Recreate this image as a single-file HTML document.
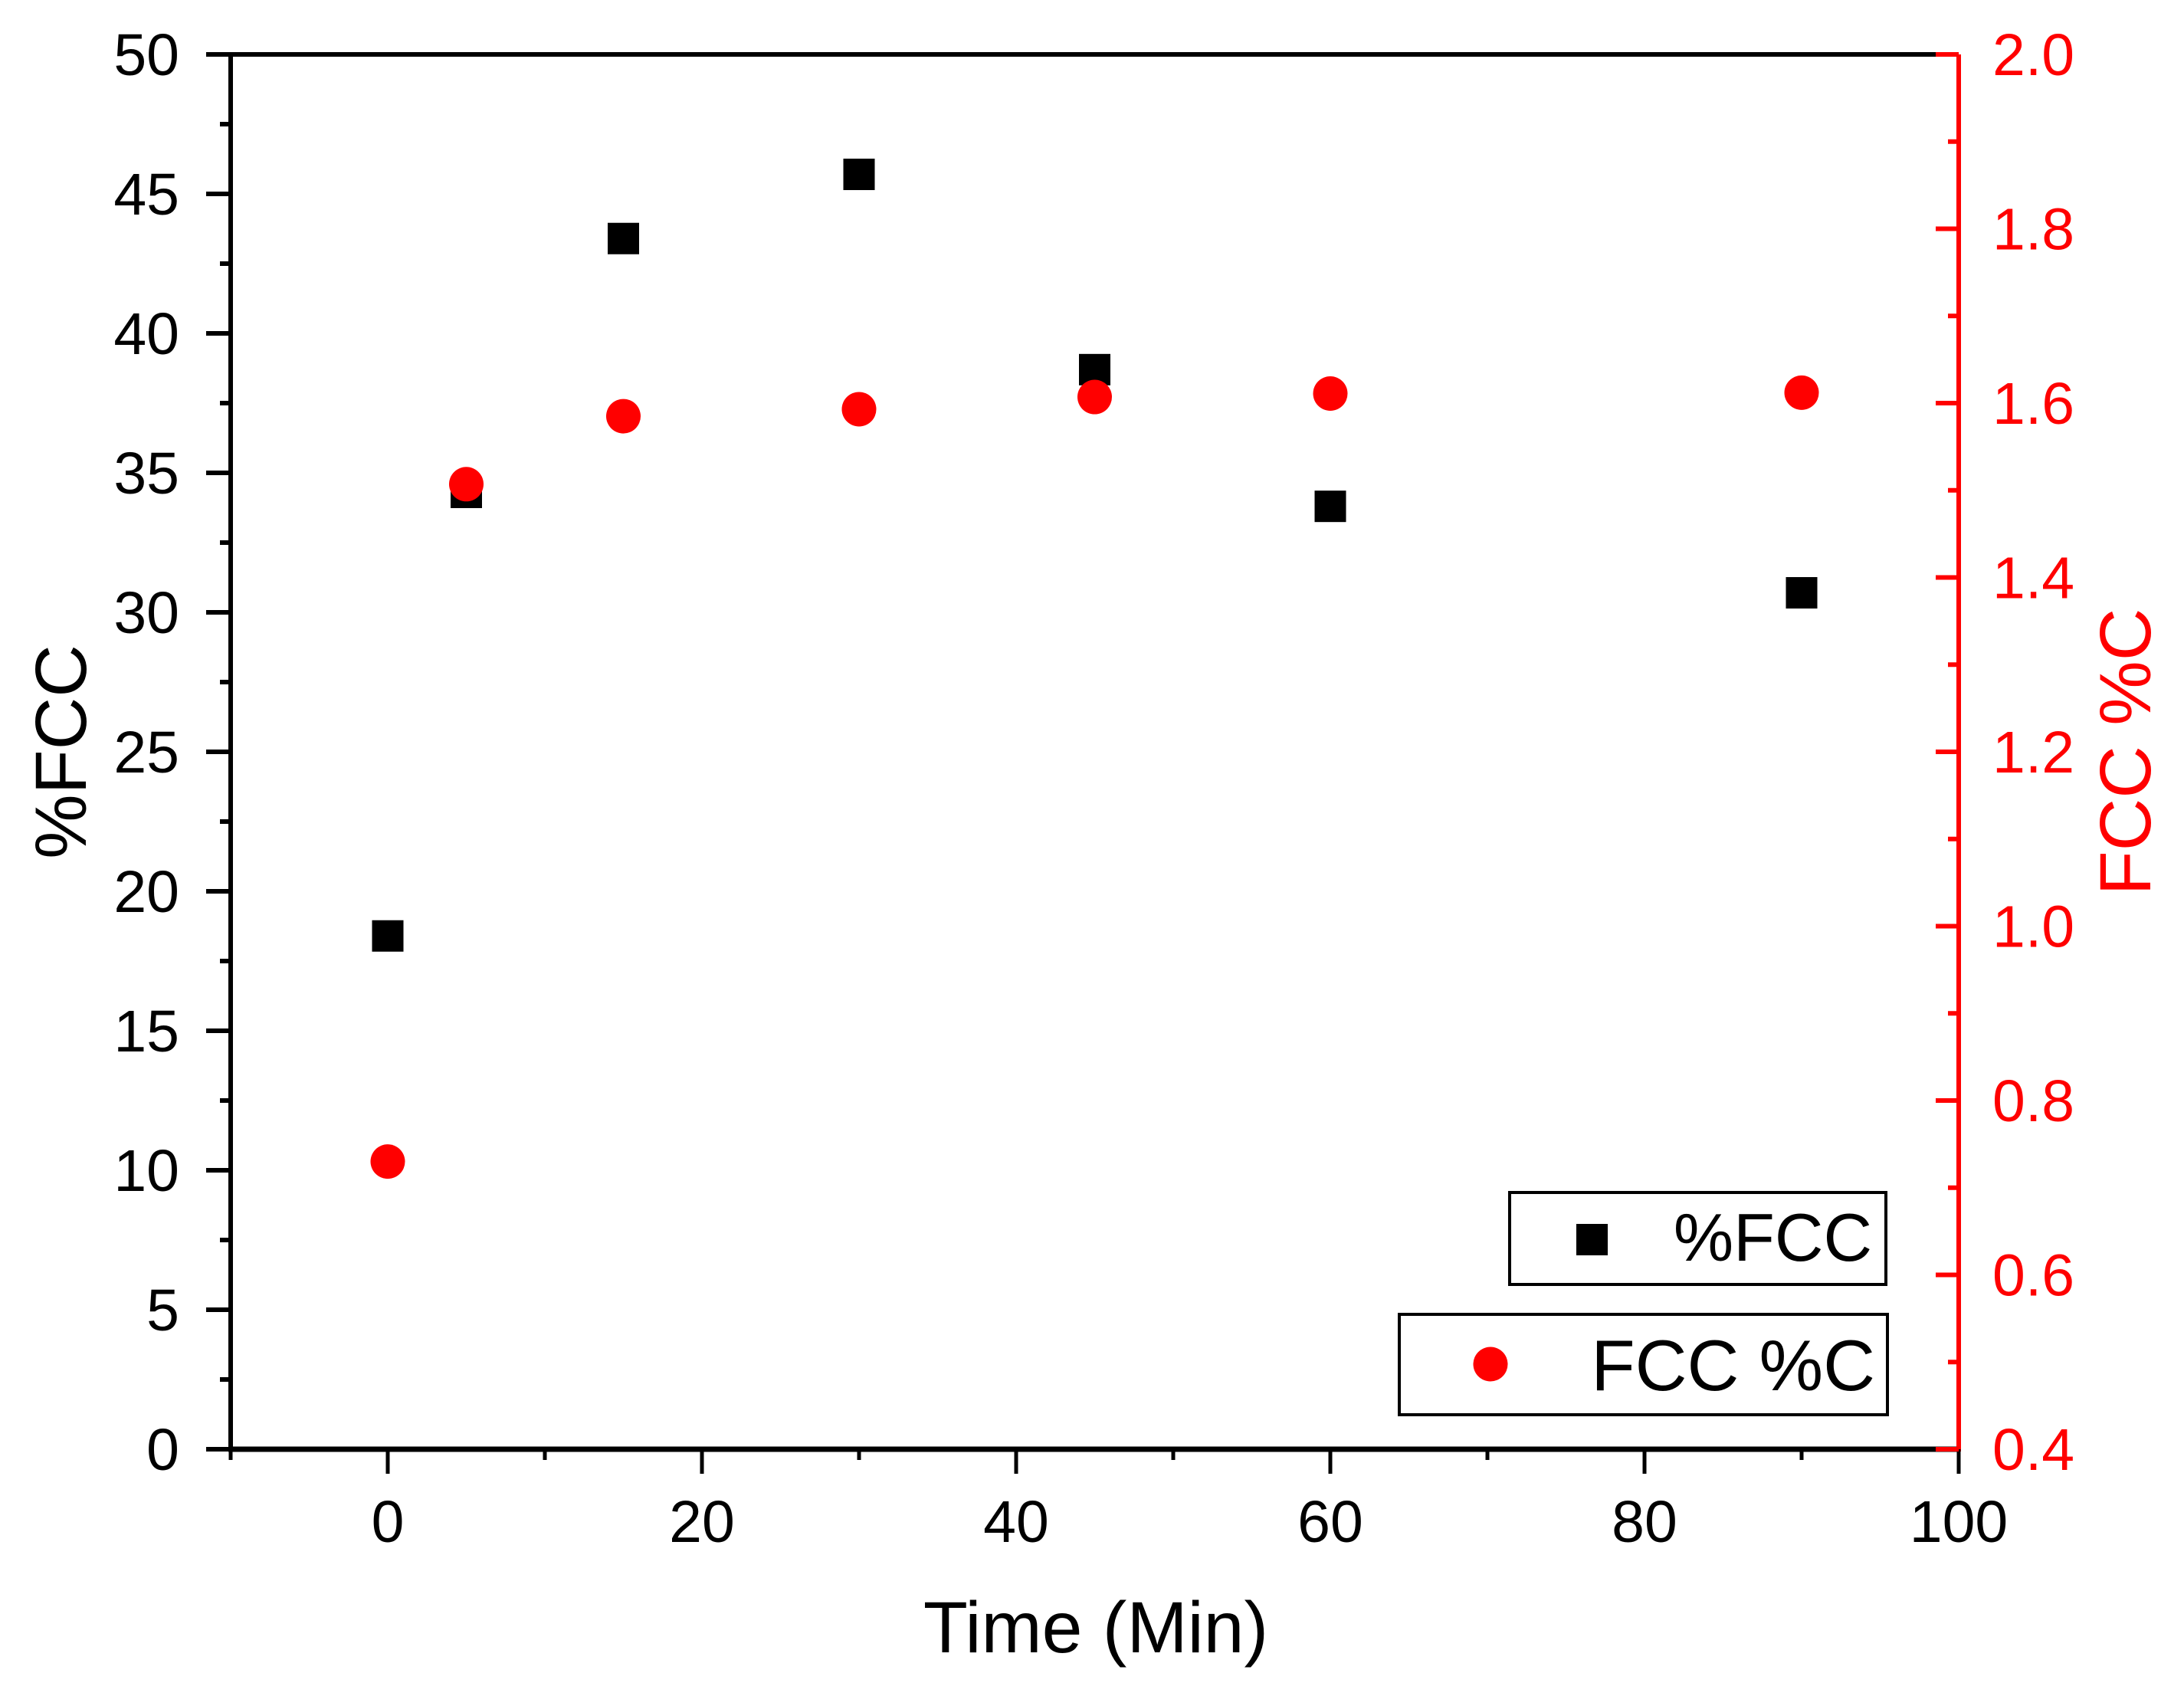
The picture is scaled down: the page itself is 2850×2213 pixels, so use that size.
<!DOCTYPE html>
<html><head><meta charset="utf-8"><style>
html,body{margin:0;padding:0;background:#fff;}
svg{display:block;font-family:"Liberation Sans",Arial,sans-serif;}
</style></head><body>
<svg id="chart" width="2850" height="2213" viewBox="0 0 2850 2213" xmlns="http://www.w3.org/2000/svg">
<rect width="2850" height="2213" fill="#fff"/>
<g id="axes"></g>
<g id="marks"></g>
<g>
  <rect x="1970" y="1556" width="491" height="120" fill="#fff" stroke="#000" stroke-width="4"/>
  <rect x="2057" y="1597" width="41" height="41" fill="#000"/>
  <text x="2443" y="1645" font-size="88" text-anchor="end">%FCC</text>
  <rect x="1826" y="1715" width="637" height="131" fill="#fff" stroke="#000" stroke-width="4"/>
  <circle cx="1945" cy="1780" r="22.5" fill="#ff0000"/>
  <text x="2447" y="1814" font-size="94" text-anchor="end">FCC %C</text>
</g>
<text x="1430" y="2156" font-size="95" text-anchor="middle">Time (Min)</text>
<text transform="translate(112,981) rotate(-90)" font-size="95" text-anchor="middle">%FCC</text>
<text transform="translate(2806,981) rotate(-90)" font-size="95" text-anchor="middle" fill="#ff0000">FCC %C</text>
</svg>
<script>
const times = [0, 5, 15, 30, 45, 60, 90];
const fccPercent = [18.4, 34.3, 43.4, 45.7, 38.7, 33.8, 30.7];
const fccCarbon = [0.73, 1.507, 1.585, 1.593, 1.607, 1.611, 1.612];
const xTicks = [0, 20, 40, 60, 80, 100];
const yLeftTicks = [0, 5, 10, 15, 20, 25, 30, 35, 40, 45, 50];
const yRightTicks = [0.4, 0.6, 0.8, 1.0, 1.2, 1.4, 1.6, 1.8, 2.0];

const NS = "http://www.w3.org/2000/svg";
const L = 301, R = 2556, T = 71, B = 1891;
const xMin = -10, xMax = 100, yLMin = 0, yLMax = 50, yRMin = 0.4, yRMax = 2.0;
function xs(v){ return L + (v - xMin) / (xMax - xMin) * (R - L); }
function yl(v){ return B - (v - yLMin) / (yLMax - yLMin) * (B - T); }
function yr(v){ return B - (v - yRMin) / (yRMax - yRMin) * (B - T); }
function mk(tag, attrs, parent){
  const e = document.createElementNS(NS, tag);
  for (const k in attrs) e.setAttribute(k, attrs[k]);
  parent.appendChild(e);
  return e;
}
const axes = document.getElementById('axes');
const marks = document.getElementById('marks');

let a = mk('line', {x1:L, y1:T, x2:R, y2:T, stroke:'#000', 'stroke-width':6}, axes);


a = mk('line', {x1:L, y1:T-3, x2:L, y2:B+3, stroke:'#000', 'stroke-width':6}, axes);


a = mk('line', {x1:L-3, y1:B, x2:R, y2:B, stroke:'#000', 'stroke-width':7}, axes);


a = mk('line', {x1:R, y1:T, x2:R, y2:B+3, stroke:'#ff0000', 'stroke-width':6}, axes);



for (let i = 0; i < xTicks.length; i++){
  const v = xTicks[i], x = xs(v);
  const t = mk('line', {x1:x, y1:B, x2:x, y2:B+32, stroke:'#000', 'stroke-width':5}, axes);
  
  
  const lb = mk('text', {x:x, y:2012, 'font-size':77, 'text-anchor':'middle'}, axes);
  lb.textContent = v;
  
  
}
for (let v = xMin; v <= xMax; v += 20){
  const x = xs(v);
  const t = mk('line', {x1:x, y1:B, x2:x, y2:B+14, stroke:'#000', 'stroke-width':5}, axes);
  
  
}
for (let i = 0; i < yLeftTicks.length; i++){
  const v = yLeftTicks[i], y = yl(v);
  const t = mk('line', {x1:L-32, y1:y, x2:L, y2:y, stroke:'#000', 'stroke-width':6}, axes);
  
  
  const lb = mk('text', {x:234, y:y+27, 'font-size':77, 'text-anchor':'end'}, axes);
  lb.textContent = v;
  
  
  if (i < yLeftTicks.length - 1){
    const ym = yl(v + 2.5);
    const m = mk('line', {x1:L-14, y1:ym, x2:L, y2:ym, stroke:'#000', 'stroke-width':6}, axes);
    
    
  }
}
for (let i = 0; i < yRightTicks.length; i++){
  const v = yRightTicks[i], y = yr(v);
  const t = mk('line', {x1:R-30, y1:y, x2:R, y2:y, stroke:'#ff0000', 'stroke-width':6}, axes);
  
  
  const lb = mk('text', {x:2600, y:y+27, 'font-size':77, 'text-anchor':'start', fill:'#ff0000'}, axes);
  lb.textContent = v.toFixed(1);
  
  
  if (i < yRightTicks.length - 1){
    const ym = yr(v + 0.1);
    const m = mk('line', {x1:R-14, y1:ym, x2:R, y2:ym, stroke:'#ff0000', 'stroke-width':6}, axes);
    
    
  }
}
for (let i = 0; i < times.length; i++){
  const s = mk('rect', {x:xs(times[i]) - 20.5, y:yl(fccPercent[i]) - 20.5, width:41, height:41, fill:'#000'}, marks);
  
  
}
for (let i = 0; i < times.length; i++){
  const c = mk('circle', {cx:xs(times[i]), cy:yr(fccCarbon[i]), r:22.5, fill:'#ff0000'}, marks);
  
  
}
</script>
</body></html>
